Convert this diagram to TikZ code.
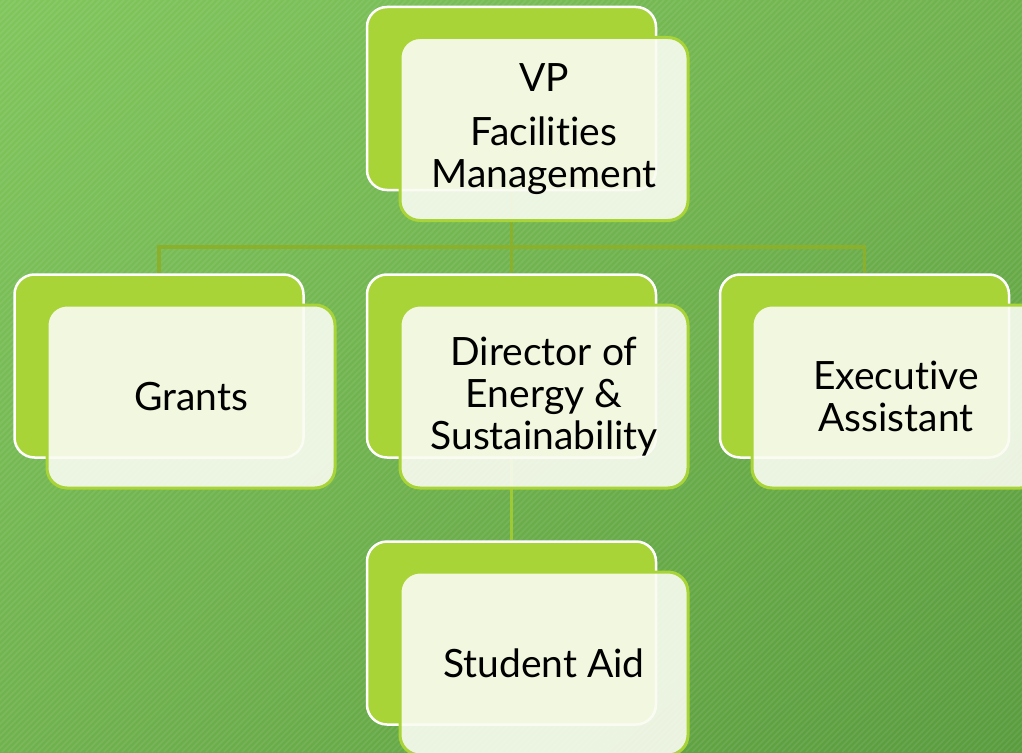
\documentclass[tikz,border=0pt]{standalone}
\usepackage{fontspec}
\setmainfont[Ligatures=NoCommon]{Lato}
\usetikzlibrary{shadings}
\pgfdeclarelayer{bg}
\pgfdeclarelayer{conn}
\pgfsetlayers{bg,conn,main}
\begin{document}
\begin{tikzpicture}[x=1pt,y=-1pt,
  backbox/.style={draw=white,line width=2.5pt,fill=limeA,rounded corners=20pt,
    minimum width=289pt,minimum height=183pt,inner sep=0pt},
  frontbox/.style={draw=limeA,line width=3pt,fill=frontC,fill opacity=0.9,text opacity=1,
    rounded corners=20pt,minimum width=288pt,minimum height=183pt,inner sep=0pt,
    align=center,font=\fontsize{39}{42}\selectfont,text=black},
  conntop/.style={draw=olivC,line width=3.5pt},
  connlow/.style={draw=limeB,line width=3pt}]
\definecolor{limeA}{RGB}{169,212,55}
\definecolor{limeB}{RGB}{158,200,52}
\definecolor{olivC}{RGB}{138,176,44}
\definecolor{frontC}{RGB}{250,252,242}
\definecolor{bgA}{RGB}{128,198,92}
\definecolor{bgM}{RGB}{112,178,78}
\definecolor{bgB}{RGB}{90,156,62}
\useasboundingbox (0,0) rectangle (1022,752);
\begin{pgfonlayer}{bg}
\begin{scope}
\clip (0,0) rectangle (1022,752);
\shade[upper left=bgA,upper right=bgM,lower left=bgM,lower right=bgB] (0,0) rectangle (1022,752);
\foreach \i in {-760,-754,...,1030}{
  \draw[white,opacity=0.08,line width=1.5pt] (\i,752) -- ({\i+752},0);
}
\end{scope}
\end{pgfonlayer}
\begin{scope}
\clip (0,0) rectangle (1022,752);
\node[backbox] (vpB) at (511.5,98.5) {};
\node[backbox] (gB) at (159,366) {};
\node[backbox] (dB) at (511.5,366) {};
\node[backbox] (eB) at (864.5,366) {};
\node[backbox] (sB) at (511.5,633) {};
\coordinate (bar) at (511.5,247);
\node[frontbox] (vpF) at (544,129) {VP\\[12pt]Facilities\\Management};
\node[frontbox] (gF) at (191,396.5) {Grants};
\node[frontbox] (dF) at (544,396.5) {Director of\\Energy \&\\Sustainability};
\node[frontbox] (eF) at (896,396.5) {Executive\\Assistant};
\node[frontbox] (sF) at (544,663.5) {Student Aid};
\end{scope}
\begin{pgfonlayer}{conn}
\path[conntop] (vpB.center) -- (bar);
\path[conntop] (gB.north) |- (bar) -| (eB.north);
\path[conntop] (bar) -- (dB.north);
\path[connlow] (dB.center) -- (sB.north);
\end{pgfonlayer}
\end{tikzpicture}
\end{document}
